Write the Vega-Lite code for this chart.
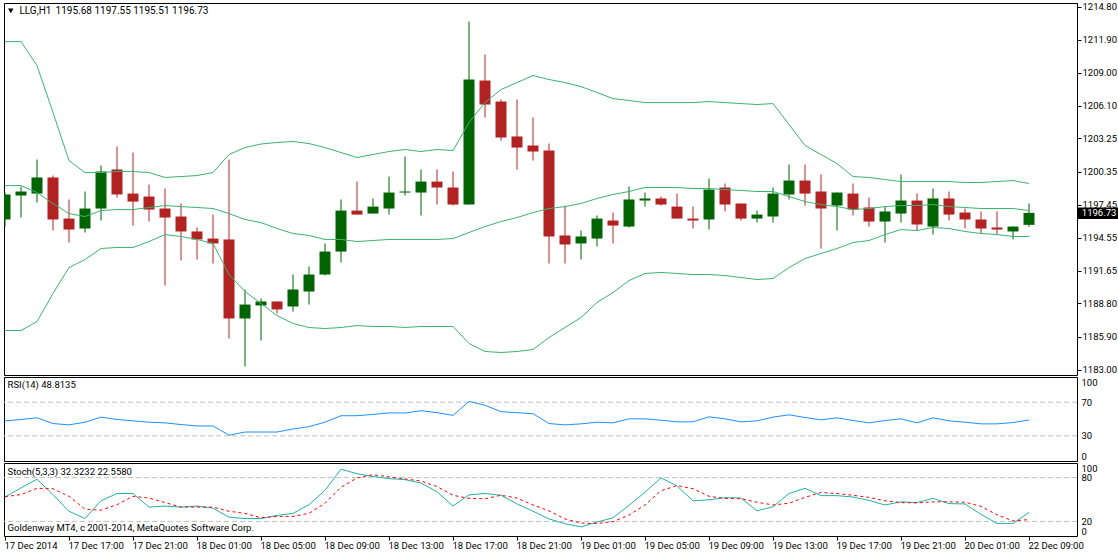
{
"$schema":"https://vega.github.io/schema/vega-lite/v6.json",
"padding":{"left":2,"top":1,"right":0,"bottom":0},
"background":"#ffffff",
"spacing":0,
"config":{
"view":{"stroke":"#000000","strokeWidth":1},
"axis":{"grid":false,"domain":false,"title":null,"labelFont":"Roboto","labelFontSize":9.5,"labelColor":"#000000","tickColor":"#000000","tickSize":4,"labelPadding":1}
},
"datasets":{"bars":[
{"bar":0,"open":1196.15,"high":1198.51,"low":1195.53,"close":1198.34,"upper":1211.73,"middle":1199.12,"lower":1186.43,"rsi":47.8,"stoch":53.4,"signal":53.9},
{"bar":1,"open":1198.25,"high":1199.04,"low":1196.32,"close":1198.60,"upper":1211.73,"middle":1199.12,"lower":1186.43,"rsi":49.4,"stoch":65.8,"signal":56.7},
{"bar":2,"open":1198.42,"high":1201.40,"low":1197.64,"close":1199.83,"upper":1209.63,"middle":1198.51,"lower":1187.21,"rsi":51.4,"stoch":77.7,"signal":65.3},
{"bar":3,"open":1199.83,"high":1200.00,"low":1195.18,"close":1196.15,"upper":1205.52,"middle":1197.55,"lower":1189.67,"rsi":44.6,"stoch":56.7,"signal":64.8},
{"bar":4,"open":1196.23,"high":1197.90,"low":1194.13,"close":1195.27,"upper":1201.31,"middle":1196.67,"lower":1191.94,"rsi":43,"stoch":33.9,"signal":54.4},
{"bar":5,"open":1195.36,"high":1198.60,"low":1195.01,"close":1197.11,"upper":1200.26,"middle":1196.41,"lower":1192.64,"rsi":46.2,"stoch":23.9,"signal":36.8},
{"bar":6,"open":1197.11,"high":1200.88,"low":1196.06,"close":1200.35,"upper":1200.26,"middle":1196.93,"lower":1193.61,"rsi":52.2,"stoch":48.2,"signal":35.3},
{"bar":7,"open":1200.53,"high":1202.54,"low":1198.07,"close":1198.34,"upper":1200.35,"middle":1197.02,"lower":1193.70,"rsi":49.4,"stoch":58.2,"signal":42.9},
{"bar":8,"open":1198.42,"high":1202.01,"low":1195.62,"close":1197.72,"upper":1200.35,"middle":1197.02,"lower":1193.70,"rsi":47.8,"stoch":58.2,"signal":54.4},
{"bar":9,"open":1198.16,"high":1199.21,"low":1195.97,"close":1197.02,"upper":1200.26,"middle":1197.20,"lower":1194.22,"rsi":46.2,"stoch":39.6,"signal":52},
{"bar":10,"open":1197.11,"high":1198.86,"low":1190.37,"close":1196.32,"upper":1199.83,"middle":1197.37,"lower":1194.83,"rsi":45.4,"stoch":41,"signal":45.8},
{"bar":11,"open":1196.41,"high":1197.55,"low":1192.56,"close":1195.10,"upper":1199.91,"middle":1197.28,"lower":1194.66,"rsi":43.4,"stoch":39.6,"signal":39.6},
{"bar":12,"open":1195.10,"high":1195.45,"low":1192.64,"close":1194.40,"upper":1200.00,"middle":1197.20,"lower":1194.40,"rsi":41.7,"stoch":41,"signal":39.6},
{"bar":13,"open":1194.48,"high":1196.58,"low":1192.29,"close":1194.05,"upper":1200.26,"middle":1197.11,"lower":1194.05,"rsi":41.7,"stoch":38.2,"signal":39.6},
{"bar":14,"open":1194.40,"high":1201.40,"low":1185.73,"close":1187.48,"upper":1201.84,"middle":1196.67,"lower":1191.33,"rsi":30.8,"stoch":25.8,"signal":33.9},
{"bar":15,"open":1187.48,"high":1190.02,"low":1183.27,"close":1188.70,"upper":1202.45,"middle":1196.15,"lower":1189.84,"rsi":34.5,"stoch":23.9,"signal":31},
{"bar":16,"open":1188.62,"high":1189.23,"low":1185.55,"close":1188.97,"upper":1202.76,"middle":1195.88,"lower":1188.79,"rsi":34.5,"stoch":23.9,"signal":24.9},
{"bar":17,"open":1188.97,"high":1188.97,"low":1187.92,"close":1188.27,"upper":1202.89,"middle":1195.36,"lower":1187.74,"rsi":34.5,"stoch":28.2,"signal":26.8},
{"bar":18,"open":1188.53,"high":1191.33,"low":1188.09,"close":1190.02,"upper":1202.98,"middle":1194.92,"lower":1187.04,"rsi":38.1,"stoch":31,"signal":26.8},
{"bar":19,"open":1189.84,"high":1192.03,"low":1188.70,"close":1191.33,"upper":1202.80,"middle":1194.75,"lower":1186.69,"rsi":40.9,"stoch":42.9,"signal":31},
{"bar":20,"open":1191.33,"high":1194.05,"low":1191.24,"close":1193.34,"upper":1202.45,"middle":1194.40,"lower":1186.60,"rsi":46.2,"stoch":62.5,"signal":44.9},
{"bar":21,"open":1193.34,"high":1197.90,"low":1192.38,"close":1196.93,"upper":1202.01,"middle":1194.40,"lower":1186.69,"rsi":53.9,"stoch":91.5,"signal":66.7},
{"bar":22,"open":1196.93,"high":1199.47,"low":1196.58,"close":1196.58,"upper":1201.58,"middle":1194.22,"lower":1186.86,"rsi":53.9,"stoch":85.3,"signal":79.6},
{"bar":23,"open":1196.67,"high":1197.99,"low":1196.67,"close":1197.28,"upper":1201.84,"middle":1194.31,"lower":1186.78,"rsi":55.5,"stoch":81.5,"signal":83.9},
{"bar":24,"open":1197.11,"high":1199.91,"low":1196.58,"close":1198.51,"upper":1202.10,"middle":1194.40,"lower":1186.78,"rsi":57.3,"stoch":78.6,"signal":81},
{"bar":25,"open":1198.51,"high":1201.66,"low":1198.25,"close":1198.60,"upper":1202.28,"middle":1194.40,"lower":1186.69,"rsi":57.1,"stoch":77.2,"signal":78.2},
{"bar":26,"open":1198.51,"high":1200.53,"low":1196.50,"close":1199.47,"upper":1202.10,"middle":1194.40,"lower":1186.78,"rsi":59.9,"stoch":72.5,"signal":75.3},
{"bar":27,"open":1199.47,"high":1200.53,"low":1197.46,"close":1198.95,"upper":1202.28,"middle":1194.40,"lower":1186.78,"rsi":57.5,"stoch":60.6,"signal":67.7},
{"bar":28,"open":1198.95,"high":1200.35,"low":1197.37,"close":1197.46,"upper":1202.19,"middle":1194.48,"lower":1186.78,"rsi":54.3,"stoch":41,"signal":55.8},
{"bar":29,"open":1197.46,"high":1213.49,"low":1197.46,"close":1208.41,"upper":1204.64,"middle":1195.01,"lower":1185.29,"rsi":70.8,"stoch":56.3,"signal":51.5},
{"bar":30,"open":1208.32,"high":1210.59,"low":1205.08,"close":1206.22,"upper":1206.39,"middle":1195.53,"lower":1184.59,"rsi":66.4,"stoch":58.2,"signal":51},
{"bar":31,"open":1206.48,"high":1206.66,"low":1203.06,"close":1203.33,"upper":1207.53,"middle":1195.97,"lower":1184.50,"rsi":58.7,"stoch":55.8,"signal":55.8},
{"bar":32,"open":1203.42,"high":1206.66,"low":1200.53,"close":1202.45,"upper":1208.14,"middle":1196.32,"lower":1184.59,"rsi":57.5,"stoch":43.9,"signal":52},
{"bar":33,"open":1202.63,"high":1205.08,"low":1201.31,"close":1202.10,"upper":1208.76,"middle":1196.76,"lower":1184.76,"rsi":56.3,"stoch":33.9,"signal":42.5},
{"bar":34,"open":1202.19,"high":1202.80,"low":1192.29,"close":1194.66,"upper":1208.41,"middle":1197.11,"lower":1185.81,"rsi":44.6,"stoch":23.4,"signal":34.4},
{"bar":35,"open":1194.75,"high":1197.37,"low":1192.29,"close":1193.96,"upper":1208.14,"middle":1197.28,"lower":1186.69,"rsi":43,"stoch":16.8,"signal":23.4},
{"bar":36,"open":1194.05,"high":1195.18,"low":1192.64,"close":1194.66,"upper":1207.79,"middle":1197.55,"lower":1187.56,"rsi":44.2,"stoch":12.5,"signal":17.7},
{"bar":37,"open":1194.48,"high":1196.50,"low":1193.78,"close":1196.23,"upper":1207.27,"middle":1197.99,"lower":1188.88,"rsi":46.2,"stoch":19.1,"signal":17.2},
{"bar":38,"open":1196.06,"high":1196.76,"low":1194.05,"close":1195.62,"upper":1206.74,"middle":1198.34,"lower":1189.75,"rsi":45.4,"stoch":24.9,"signal":19.6},
{"bar":39,"open":1195.53,"high":1199.04,"low":1195.45,"close":1197.90,"upper":1206.57,"middle":1198.60,"lower":1190.80,"rsi":50.2,"stoch":42,"signal":28.7},
{"bar":40,"open":1197.81,"high":1198.51,"low":1197.28,"close":1197.99,"upper":1206.39,"middle":1198.95,"lower":1191.42,"rsi":50.2,"stoch":60,"signal":42.5},
{"bar":41,"open":1197.99,"high":1198.16,"low":1197.37,"close":1197.46,"upper":1206.39,"middle":1198.95,"lower":1191.51,"rsi":48.6,"stoch":79.6,"signal":62},
{"bar":42,"open":1197.28,"high":1198.42,"low":1196.23,"close":1196.23,"upper":1206.39,"middle":1198.95,"lower":1191.42,"rsi":46.6,"stoch":68.6,"signal":69.1},
{"bar":43,"open":1196.23,"high":1197.28,"low":1195.36,"close":1196.06,"upper":1206.39,"middle":1198.86,"lower":1191.33,"rsi":46.6,"stoch":48.2,"signal":64.8},
{"bar":44,"open":1196.15,"high":1199.74,"low":1195.27,"close":1198.77,"upper":1206.48,"middle":1198.86,"lower":1191.33,"rsi":52.6,"stoch":49.6,"signal":54.4},
{"bar":45,"open":1198.95,"high":1199.30,"low":1196.85,"close":1197.46,"upper":1206.39,"middle":1198.77,"lower":1191.24,"rsi":50.2,"stoch":52.5,"signal":51.5},
{"bar":46,"open":1197.55,"high":1197.55,"low":1196.06,"close":1196.23,"upper":1206.30,"middle":1198.69,"lower":1191.07,"rsi":46.6,"stoch":52,"signal":51},
{"bar":47,"open":1196.23,"high":1196.93,"low":1195.88,"close":1196.58,"upper":1206.22,"middle":1198.60,"lower":1190.89,"rsi":47.8,"stoch":34.4,"signal":46.3},
{"bar":48,"open":1196.41,"high":1198.95,"low":1195.88,"close":1198.42,"upper":1206.30,"middle":1198.60,"lower":1190.98,"rsi":52.2,"stoch":40.1,"signal":42.5},
{"bar":49,"open":1198.34,"high":1200.96,"low":1197.90,"close":1199.56,"upper":1204.47,"middle":1198.16,"lower":1191.94,"rsi":55,"stoch":58.2,"signal":44.9},
{"bar":50,"open":1199.56,"high":1200.96,"low":1197.37,"close":1198.42,"upper":1202.63,"middle":1197.72,"lower":1192.73,"rsi":51.8,"stoch":65.3,"signal":52.9},
{"bar":51,"open":1198.60,"high":1200.09,"low":1193.61,"close":1197.11,"upper":1201.84,"middle":1197.46,"lower":1193.17,"rsi":49,"stoch":55.3,"signal":59.6},
{"bar":52,"open":1197.37,"high":1198.51,"low":1195.18,"close":1198.51,"upper":1201.05,"middle":1197.28,"lower":1193.61,"rsi":51.4,"stoch":55.3,"signal":58.2},
{"bar":53,"open":1198.42,"high":1199.30,"low":1196.50,"close":1197.02,"upper":1199.91,"middle":1197.02,"lower":1194.13,"rsi":48.2,"stoch":53.4,"signal":55.8},
{"bar":54,"open":1197.20,"high":1198.07,"low":1195.53,"close":1195.97,"upper":1199.83,"middle":1197.11,"lower":1194.31,"rsi":45.4,"stoch":48.7,"signal":52.9},
{"bar":55,"open":1195.97,"high":1197.28,"low":1194.13,"close":1196.85,"upper":1199.65,"middle":1197.28,"lower":1194.83,"rsi":48.2,"stoch":42.5,"signal":48.2},
{"bar":56,"open":1196.67,"high":1200.09,"low":1195.88,"close":1197.81,"upper":1199.47,"middle":1197.37,"lower":1195.27,"rsi":50.2,"stoch":46.8,"signal":45.8},
{"bar":57,"open":1197.81,"high":1198.42,"low":1195.18,"close":1195.71,"upper":1199.47,"middle":1197.37,"lower":1195.18,"rsi":45.4,"stoch":45.8,"signal":45.3},
{"bar":58,"open":1195.53,"high":1198.86,"low":1194.83,"close":1197.99,"upper":1199.47,"middle":1197.46,"lower":1195.45,"rsi":51.4,"stoch":51.5,"signal":46.8},
{"bar":59,"open":1197.99,"high":1198.60,"low":1196.06,"close":1196.58,"upper":1199.47,"middle":1197.28,"lower":1195.36,"rsi":47.8,"stoch":44.4,"signal":46.8},
{"bar":60,"open":1196.76,"high":1197.11,"low":1195.36,"close":1196.15,"upper":1199.39,"middle":1197.20,"lower":1195.10,"rsi":46.2,"stoch":43.9,"signal":46.3},
{"bar":61,"open":1196.15,"high":1196.85,"low":1194.92,"close":1195.36,"upper":1199.39,"middle":1197.11,"lower":1194.92,"rsi":44.2,"stoch":29.6,"signal":40.6},
{"bar":62,"open":1195.45,"high":1196.85,"low":1194.83,"close":1195.27,"upper":1199.47,"middle":1197.11,"lower":1194.83,"rsi":44.2,"stoch":17.2,"signal":29.1},
{"bar":63,"open":1195.10,"high":1195.53,"low":1194.40,"close":1195.53,"upper":1199.56,"middle":1197.11,"lower":1194.66,"rsi":45.8,"stoch":17.2,"signal":20.6},
{"bar":64,"open":1195.68,"high":1197.55,"low":1195.51,"close":1196.73,"upper":1199.30,"middle":1196.93,"lower":1194.66,"rsi":48.8,"stoch":32.3,"signal":22.6}
]},
"vconcat":[
{
"width":1073,"height":372,
"data":{"name":"bars"},
"layer":[
{"mark":{"type":"rule","strokeWidth":1,"clip":true},
"encoding":{
"x":{"field":"bar","type":"quantitative","scale":{"domain":[-0.0625,67],"nice":false,"zero":false,"padding":0},"axis":null},
"y":{"field":"low","type":"quantitative","scale":{"domain":[1182.53,1215.11],"nice":false,"zero":false},
"axis":{"orient":"right","format":".2f","labelOverlap":false,"tickCount":12,"values":[1214.8,1211.9,1209,1206.1,1203.25,1200.35,1197.45,1194.55,1191.65,1188.8,1185.9,1183]}},
"y2":{"field":"high"},
"color":{"condition":{"test":"datum.close>=datum.open","value":"#006400"},"value":"#B22222"}}},
{"mark":{"type":"bar","size":11,"clip":true},
"encoding":{
"x":{"field":"bar","type":"quantitative"},
"y":{"field":"open","type":"quantitative"},
"y2":{"field":"close"},
"color":{"condition":{"test":"datum.close>=datum.open","value":"#006400"},"value":"#B22222"}}},
{"mark":{"type":"line","color":"#3CB371","strokeWidth":1},"encoding":{"x":{"field":"bar","type":"quantitative"},"y":{"field":"upper","type":"quantitative"}}},
{"mark":{"type":"line","color":"#3CB371","strokeWidth":1},"encoding":{"x":{"field":"bar","type":"quantitative"},"y":{"field":"middle","type":"quantitative"}}},
{"mark":{"type":"line","color":"#3CB371","strokeWidth":1},"encoding":{"x":{"field":"bar","type":"quantitative"},"y":{"field":"lower","type":"quantitative"}}},
{"data":{"values":[{"label":"LLG,H1"}]},
"mark":{"type":"text","align":"left","baseline":"middle","font":"Roboto","fontSize":10,"color":"#000000"},
"encoding":{"x":{"datum":0.9,"type":"quantitative"},"y":{"datum":1214.38,"type":"quantitative"},"text":{"field":"label"}}},
{"data":{"values":[{"label":"1195.68 1197.55 1195.51 1196.73"}]},
"mark":{"type":"text","align":"left","baseline":"middle","font":"Roboto","fontSize":10,"color":"#000000"},
"encoding":{"x":{"datum":3.16,"type":"quantitative"},"y":{"datum":1214.38,"type":"quantitative"},"text":{"field":"label"}}},
{"data":{"values":[{"label":"LLG,H1"}]},
"mark":{"type":"point","shape":"triangle-down","filled":true,"size":30,"color":"#000000","opacity":1},
"encoding":{"x":{"datum":0.36,"type":"quantitative"},"y":{"datum":1214.42,"type":"quantitative"}}},
{"data":{"values":[{"close":1196.73}]},
"mark":{"type":"rect","color":"#000000"},
"encoding":{"x":{"datum":67.03,"type":"quantitative"},"x2":{"datum":69.66},"y":{"datum":1197.2,"type":"quantitative"},"y2":{"datum":1196.2}}},
{"data":{"values":[{"label":"1196.73"}]},
"mark":{"type":"text","align":"left","baseline":"middle","font":"Roboto","fontSize":9.5,"color":"#ffffff"},
"encoding":{"x":{"datum":67.3,"type":"quantitative"},"y":{"datum":1196.7,"type":"quantitative"},"text":{"field":"label"}}}
]
},
{
"width":1073,"height":84,
"data":{"name":"bars"},
"layer":[
{"data":{"values":[{"level":70},{"level":30}]},
"mark":{"type":"rule","color":"#C0C0C0","strokeWidth":1,"strokeDash":[5,3]},
"encoding":{"y":{"field":"level","type":"quantitative","scale":{"domain":[0,100],"nice":false},
"axis":{"orient":"right","values":[100,70,30,0],"tickCount":4,"labelOverlap":false,"labelFlush":true,"tickSize":0,"labelPadding":4}}}},
{"mark":{"type":"line","color":"#1E90FF","strokeWidth":1},"encoding":{"x":{"field":"bar","type":"quantitative","scale":{"domain":[-0.0625,67],"nice":false,"zero":false},"axis":null},"y":{"field":"rsi","type":"quantitative"}}},
{"data":{"values":[{"label":"RSI(14) 48.8135"}]},
"mark":{"type":"text","align":"left","baseline":"middle","font":"Roboto","fontSize":9.5,"color":"#000000"},
"encoding":{"x":{"datum":0.16,"type":"quantitative"},"y":{"datum":90,"type":"quantitative"},"text":{"field":"label"}}}
]
},
{
"width":1073,"height":73,
"data":{"name":"bars"},
"layer":[
{"data":{"values":[{"level":80},{"level":20}]},
"mark":{"type":"rule","color":"#C0C0C0","strokeWidth":1,"strokeDash":[5,3]},
"encoding":{"y":{"field":"level","type":"quantitative","scale":{"domain":[0,100],"nice":false},
"axis":{"orient":"right","values":[100,80,20,0],"tickCount":4,"labelOverlap":false,"labelFlush":true,"tickSize":0,"labelPadding":4}}}},
{"mark":{"type":"line","color":"#20B2AA","strokeWidth":1},"encoding":{
"x":{"field":"bar","type":"quantitative","scale":{"domain":[-0.0625,67],"nice":false,"zero":false},
"axis":{"orient":"bottom","values":[0,4,8,12,16,20,24,28,32,36,40,44,48,52,56,60,64],"tickCount":17,"labelOverlap":false,"labelAlign":"left","labelBound":false,"labelFlush":false,"labelPadding":0,"labelOffset":-1,
"labelExpr":"['17 Dec 2014','17 Dec 17:00','17 Dec 21:00','18 Dec 01:00','18 Dec 05:00','18 Dec 09:00','18 Dec 13:00','18 Dec 17:00','18 Dec 21:00','19 Dec 01:00','19 Dec 05:00','19 Dec 09:00','19 Dec 13:00','19 Dec 17:00','19 Dec 21:00','20 Dec 01:00','22 Dec 09:00'][datum.value/4]"}},
"y":{"field":"stoch","type":"quantitative"}}},
{"mark":{"type":"line","color":"#FF0000","strokeWidth":1,"strokeDash":[3,3]},"encoding":{"x":{"field":"bar","type":"quantitative"},"y":{"field":"signal","type":"quantitative"}}},
{"data":{"values":[{"label":"Stoch(5,3,3) 32.3232 22.5580"}]},
"mark":{"type":"text","align":"left","baseline":"middle","font":"Roboto","fontSize":9.5,"color":"#000000"},
"encoding":{"x":{"datum":0.16,"type":"quantitative"},"y":{"datum":87.7,"type":"quantitative"},"text":{"field":"label"}}},
{"data":{"values":[{"label":"Goldenway MT4, c 2001-2014, MetaQuotes Software Corp."}]},
"mark":{"type":"text","align":"left","baseline":"middle","font":"Roboto","fontSize":9.5,"color":"#000000"},
"encoding":{"x":{"datum":0.16,"type":"quantitative"},"y":{"datum":11,"type":"quantitative"},"text":{"field":"label"}}}
]
}
]
}
